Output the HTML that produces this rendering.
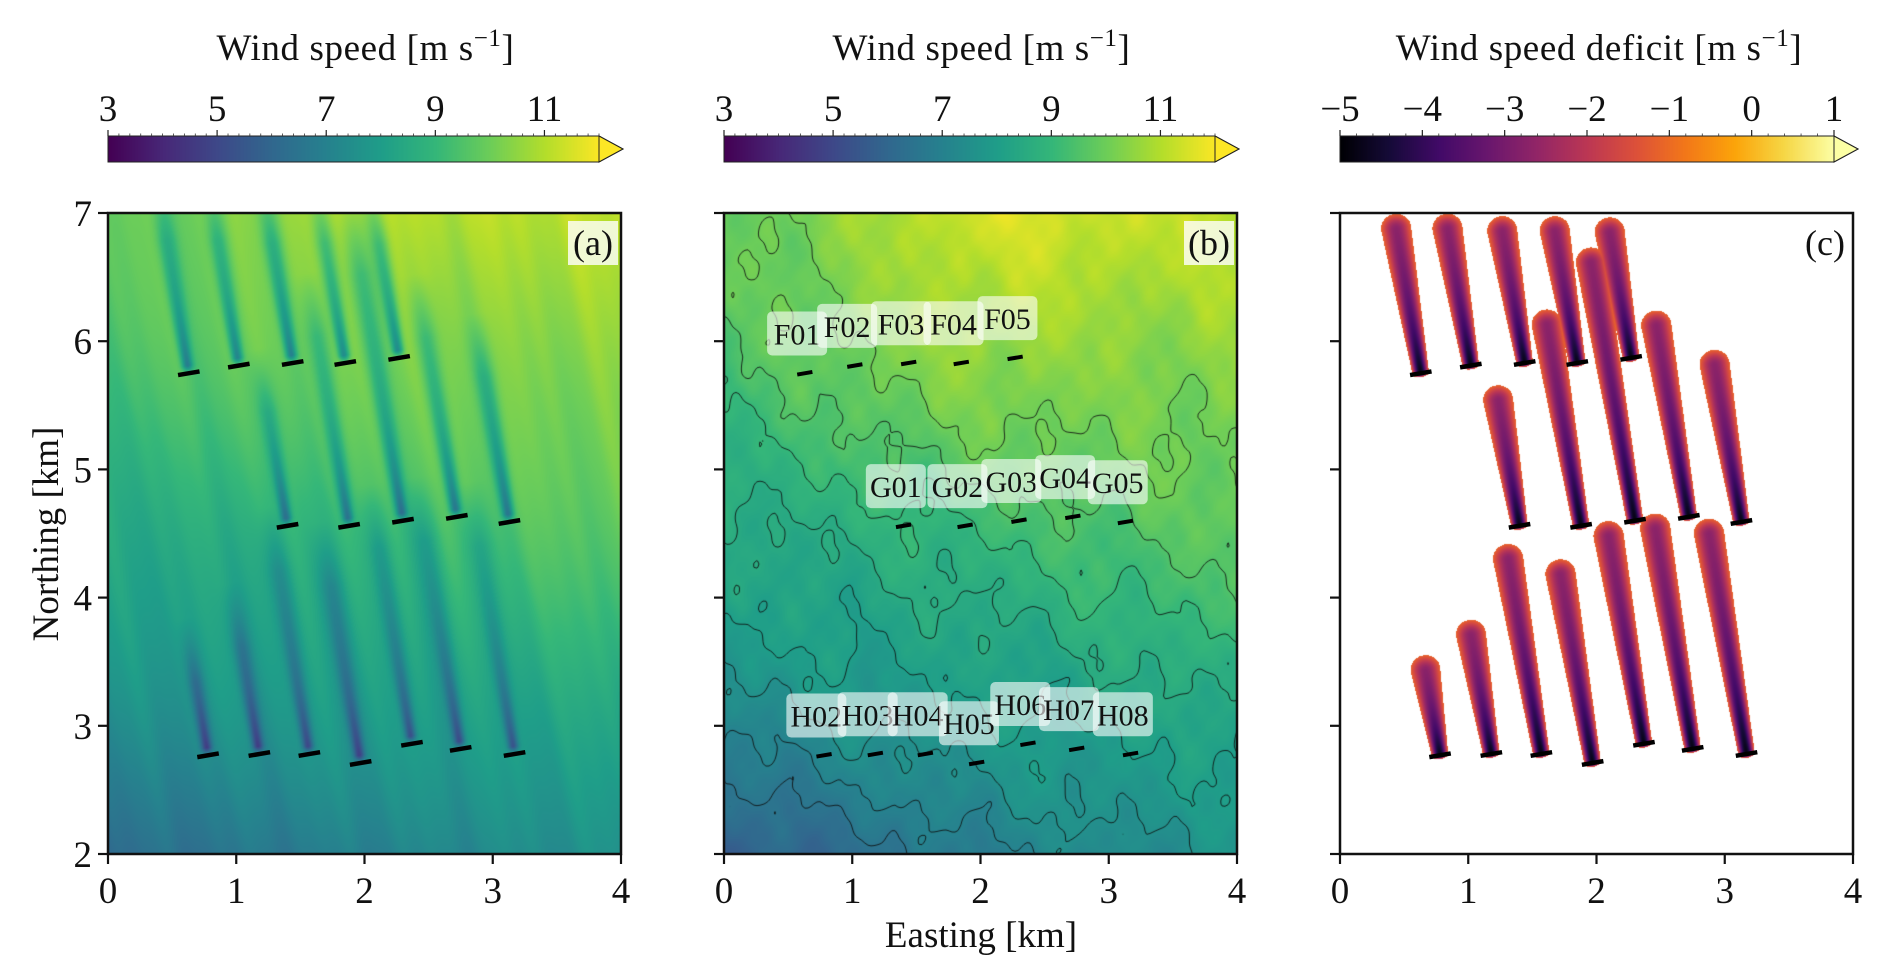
<!DOCTYPE html>
<html><head><meta charset="utf-8">
<style>
html,body{margin:0;padding:0;background:#fff;}
#root{position:relative;width:1892px;height:980px;overflow:hidden;font-family:"Liberation Serif",serif;}
svg text{font-family:"Liberation Serif",serif;fill:#111;}
canvas{position:absolute;}
</style></head>
<body>
<div id="root">
<canvas id="ca" width="513" height="641" style="left:108px;top:213px"></canvas>
<canvas id="cb" width="513" height="641" style="left:724px;top:213px"></canvas>
<canvas id="cc" width="513" height="641" style="left:1340px;top:213px"></canvas>
<canvas id="cbarA" width="493" height="26" style="left:108px;top:136px"></canvas>
<canvas id="cbarB" width="493" height="26" style="left:724px;top:136px"></canvas>
<canvas id="cbarC" width="494" height="26" style="left:1340px;top:136px"></canvas>
<svg id="ov" width="1892" height="980" style="position:absolute;left:0;top:0"></svg>
</div>
<script>
// ---------- data ----------
const rowF_x=[0.63,1.02,1.44,1.85,2.27];
const rowF_y=[5.75,5.81,5.83,5.83,5.87];
const rowF_names=["F01","F02","F03","F04","F05"];
const rowF_len=[1.2,1.14,1.1,1.1,1.05];
const rowG_x=[1.40,1.88,2.30,2.72,3.13];
const rowG_y=[4.56,4.56,4.60,4.63,4.59];
const rowG_names=["G01","G02","G03","G04","G05"];
const rowG_len=[1.05,1.65,2.1,1.57,1.3];
const rowH_x=[0.78,1.18,1.57,1.97,2.37,2.75,3.17];
const rowH_y=[2.77,2.78,2.78,2.71,2.86,2.82,2.78];
const rowH_names=["H02","H03","H04","H05","H06","H07","H08"];
const rowH_len=[0.73,1.0,1.6,1.55,1.7,1.8,1.8];
const speedTicks=[3,5,7,9,11];
const deficitTicks=[-5,-4,-3,-2,-1,0,1];
const xTicks=[0,1,2,3,4];
const yTicks=[2,3,4,5,6,7];

const TX=[...rowF_x,...rowG_x,...rowH_x];
const TY=[...rowF_y,...rowG_y,...rowH_y];
const TL=[...rowF_len,...rowG_len,...rowH_len];
const TN=[...rowF_names,...rowG_names,...rowH_names];

// ---------- helpers ----------
const W=513,H=641;
const panels=[{l:108,t:213,n:'a'},{l:724,t:213,n:'b'},{l:1340,t:213,n:'c'}];
function sx(p,km){return p.l+km/4*W;}
function sy(p,km){return p.t+(7-km)/5*H;}
function hex(c){return [parseInt(c.slice(1,3),16),parseInt(c.slice(3,5),16),parseInt(c.slice(5,7),16)];}
const VIR=["#440154","#482878","#3e4989","#31688e","#26828e","#1f9e89","#35b779","#6ece58","#b5de2b","#fde725"].map(hex);
const INF=["#000004","#160b39","#420a68","#6a176e","#932667","#bc3754","#dd513a","#f37819","#fca50a","#f6d746","#fcffa4"].map(hex);
function cmap(m,t){t=Math.max(0,Math.min(1,t));const f=t*(m.length-1),i=Math.min(m.length-2,Math.floor(f)),r=f-i;
 return [m[i][0]+(m[i+1][0]-m[i][0])*r,m[i][1]+(m[i+1][1]-m[i][1])*r,m[i][2]+(m[i+1][2]-m[i][2])*r];}
const dvx=-0.17/Math.hypot(0.17,1),dvy=1/Math.hypot(0.17,1);
function coords(x,y,i){const rx=x-TX[i],ry=y-TY[i];return [rx*dvx+ry*dvy, rx*dvy-ry*dvx];}
function wakeC(x,y,i){
 const [a,lat]=coords(x,y,i);
 if(a<-0.03||a>TL[i]+0.06)return null;
 const w=0.065+0.055*Math.min(1,a/TL[i]);
 let q=Math.abs(lat)/w;
 if(a>TL[i]-0.06){const e=(a-(TL[i]-0.06))/0.12;q=Math.hypot(q,e);}
 if(a<0){q=Math.hypot(q,-a/0.03);}
 if(q>1)return null;
 const g=0.3+0.7*Math.exp(-a/(0.55*TL[i]));
 const c=1-q*q;
 return -1.15-3.7*Math.pow(c,1.3)*g;
}
function wakeA(x,y,i){
 const [a,lat]=coords(x,y,i);
 if(a<0)return 0;
 const w=0.04+0.035*a;
 const g=(0.35+0.65*Math.exp(-a/0.5))*Math.min(1,a/0.06);
 const tip=Math.max(0,Math.min(1,(TL[i]+0.35-a)/0.5));
 return -3.0*Math.exp(-(lat/w)*(lat/w))*g*tip;
}
function base(x,y,k){
 let v=6.3+1.0*(y-2)+0.3*x-0.06*(y-2)*(y-2)+(k===0?0.5:0.8)*Math.exp(-((x-2)*(x-2))/1.6)*Math.max(0,(y-4.5)/2.5);
 const s=x+0.17*y;
 const amp=k===1?0.5:1;
 v+=amp*(0.16*Math.sin(s*9.1+1.3)+0.1*Math.sin(s*17.3+0.4)+0.06*Math.sin(s*31+y*0.6))+0.1*Math.sin(y*2.3+x*1.1);
 if(k===1){v+=0.14*Math.sin(x*5.2+y*3.1)+0.1*Math.sin(x*11.3-y*7.7)+0.07*Math.sin(x*19+y*14)+0.03*Math.sin(x*33-y*27+1)
   -0.35*Math.max(0,(3.5-y))*Math.max(0,(2.5-x))/2.5+0.3*Math.exp(-((x-2)*(x-2)+(y-6.7)*(y-6.7))/1.2);}
 return v;
}
function drawField(id,k){
 const ctx=document.getElementById(id).getContext('2d');const img=ctx.createImageData(W,H);
 for(let py=0;py<H;py++){const y=7-(py+0.5)/H*5;
  for(let px=0;px<W;px++){const x=(px+0.5)/W*4;let c;
   if(k===2){let d=0,hit=false;for(let i=0;i<TX.length;i++){const w=wakeC(x,y,i);if(w!==null){hit=true;d=Math.min(d,w);}}
    c=hit?cmap(INF,(d+5)/6):[255,255,255];}
   else{let v=base(x,y,k);
    if(k===0){for(let i=0;i<TX.length;i++)v+=wakeA(x,y,i);}
    c=cmap(VIR,(v-3)/9);}
   const o=(py*W+px)*4;img.data[o]=c[0];img.data[o+1]=c[1];img.data[o+2]=c[2];img.data[o+3]=255;}}
 ctx.putImageData(img,0,0);
 if(k===1){
  ctx.strokeStyle='rgba(15,15,15,0.85)';ctx.lineWidth=1;
  const st=3,nx=Math.ceil(W/st)+1,ny=Math.ceil(H/st)+1;const g=[];
  for(let j=0;j<ny;j++){g[j]=[];for(let i=0;i<nx;i++){const x=i*st/W*4,y=7-j*st/H*5;g[j][i]=base(x,y,1);}}
  [6.5,7.0,7.5,8.0,8.5,9.0,9.5,10.0].forEach(L=>{ctx.beginPath();
   for(let j=0;j<ny-1;j++)for(let i=0;i<nx-1;i++){
    const a=g[j][i]-L,b=g[j][i+1]-L,c2=g[j+1][i+1]-L,d=g[j+1][i]-L;const pts=[];
    const e=(p,q,x1,y1,x2,y2)=>{if((p>0)!==(q>0)){const t=p/(p-q);pts.push([x1+(x2-x1)*t,y1+(y2-y1)*t]);}};
    const X0=i*st,Y0=j*st;
    e(a,b,X0,Y0,X0+st,Y0);e(b,c2,X0+st,Y0,X0+st,Y0+st);e(c2,d,X0+st,Y0+st,X0,Y0+st);e(d,a,X0,Y0+st,X0,Y0);
    for(let m=0;m+1<pts.length;m+=2){ctx.moveTo(pts[m][0],pts[m][1]);ctx.lineTo(pts[m+1][0],pts[m+1][1]);}}
   ctx.stroke();});
 }
}
drawField('ca',0);drawField('cb',1);drawField('cc',2);
function drawBar(id,m){const cv=document.getElementById(id),ctx=cv.getContext('2d');
 for(let x=0;x<cv.width;x++){const c=cmap(m,x/(cv.width-1));ctx.fillStyle=`rgb(${c[0]|0},${c[1]|0},${c[2]|0})`;ctx.fillRect(x,0,1,26);}}
drawBar('cbarA',VIR);drawBar('cbarB',VIR);drawBar('cbarC',INF);

// ---------- overlay ----------
const NS="http://www.w3.org/2000/svg";const ov=document.getElementById('ov');
function el(tag,at,parent){const e=document.createElementNS(NS,tag);for(const k in at)e.setAttribute(k,at[k]);(parent||ov).appendChild(e);return e;}
function txt(s,x,y,size,anchor,name){const t=el('text',{x:x,y:y,'font-size':size,'text-anchor':anchor||'middle'});t.textContent=s;
 
 return t;}

const bars=[{l:108,r:599,tip:623,lo:3,hi:12,ticks:speedTicks,title:'Wind speed [m s',n:'a'},
 {l:724,r:1215,tip:1239,lo:3,hi:12,ticks:speedTicks,title:'Wind speed [m s',n:'b'},
 {l:1340,r:1834,tip:1858,lo:-5,hi:1,ticks:deficitTicks,title:'Wind speed deficit [m s',n:'c'}];
bars.forEach(b=>{
 const top=136,bot=162;
 const p=el('path',{d:`M${b.l},${top}L${b.r},${top}L${b.tip},${(top+bot)/2}L${b.r},${bot}L${b.l},${bot}Z`,fill:'none',stroke:'#222','stroke-width':1});
 
 
 const tri=el('path',{d:`M${b.r},${top}L${b.tip},${(top+bot)/2}L${b.r},${bot}Z`,fill:b.n==='c'?'#fcffa4':'#fde725',stroke:'#222','stroke-width':1});
 
 
 const X=v=>b.l+(v-b.lo)/(b.hi-b.lo)*(b.r-b.l);
 for(let v=b.lo;v<=b.hi+1e-9;v+=0.2){el('line',{x1:X(v),x2:X(v),y1:top,y2:top-2.5,stroke:'#333','stroke-width':0.8});}
 b.ticks.forEach(v=>{el('line',{x1:X(v),x2:X(v),y1:top,y2:top-6,stroke:'#222','stroke-width':1.2});
  txt(v<0?'\u2212'+(-v):String(v),X(v),121,37,'middle','colorbar-tick-label');});
 const cx=(b.l+b.tip)/2;
 const t=el('text',{x:cx,y:60,'font-size':37,'text-anchor':'middle','letter-spacing':'0.6'});
 
 
 t.textContent=b.title;const sup=el('tspan',{dy:-14,'font-size':25},t);sup.textContent='\u22121';
 const e2=el('tspan',{dy:14},t);e2.textContent=']';
});

panels.forEach((p,k)=>{
 const fr=el('rect',{x:p.l,y:p.t,width:W,height:H,fill:'none',stroke:'#111','stroke-width':2.5});
 
 
 xTicks.forEach(v=>{const x=sx(p,v);el('line',{x1:x,x2:x,y1:p.t+H,y2:p.t+H+10,stroke:'#111','stroke-width':2.2});
  txt(String(v),x,903,37,'middle','x-tick-label');});
 yTicks.forEach(v=>{const y=sy(p,v);el('line',{x1:p.l,x2:p.l-10,y1:y,y2:y,stroke:'#111','stroke-width':2.2});
  if(k===0)txt(String(v),p.l-16,y+13,37,'end','y-tick-label');});
 for(let i=0;i<TX.length;i++){const hl=k===1?0.06:0.085;
  const x1=TX[i]-hl*dvy,y1=TY[i]+hl*dvx,x2=TX[i]+hl*dvy,y2=TY[i]-hl*dvx;
  const ln=el('line',{x1:sx(p,x1),y1:sy(p,y1),x2:sx(p,x2),y2:sy(p,y2),stroke:'#000','stroke-width':k===1?4:4.5});
  
  }
 const lb=p.n==='c'?null:el('rect',{x:p.l+W-53,y:p.t+8,width:50,height:44,fill:'rgba(255,255,255,0.8)'});
 if(lb){}
 txt('('+p.n+')',p.l+W-28,p.t+42,36,'middle','panel-label-'+p.n);
});
const pb=panels[1];
for(let i=0;i<TX.length;i++){
 const cx=sx(pb,TX[i]-0.06),cy=sy(pb,TY[i]+0.31);
 const r=el('rect',{x:cx-30,y:cy-22,width:60,height:44,rx:5,fill:'rgba(255,255,255,0.6)'});
 
 
 txt(TN[i],cx,cy+11,30,'middle','turbine-label-'+TN[i]);
}
txt('Easting [km]',981,947,37,'middle','x-axis-title');
const yt=el('text',{x:0,y:0,'font-size':37,'text-anchor':'middle',transform:'translate(58,534) rotate(-90)'});


yt.textContent='Northing [km]';
</script>
</body></html>
